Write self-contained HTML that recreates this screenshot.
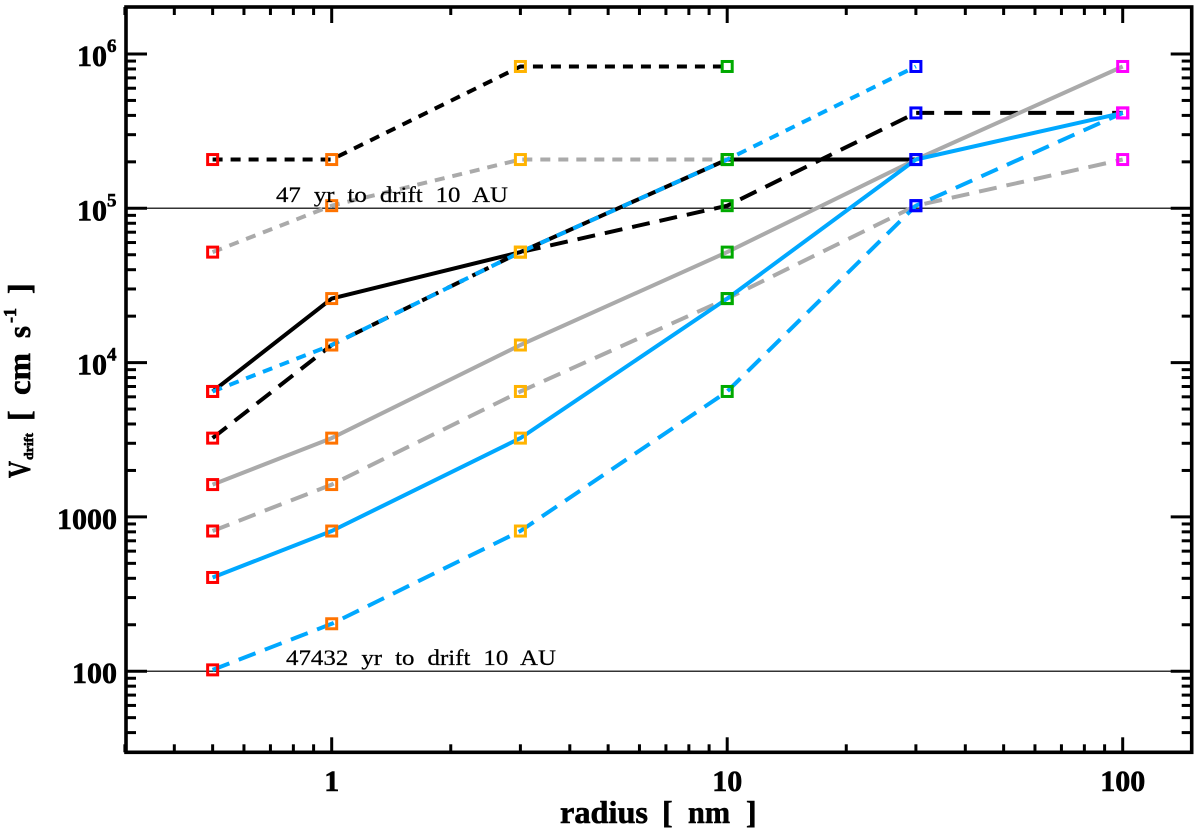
<!DOCTYPE html>
<html lang="en">
<head>
<meta charset="utf-8">
<title>Drift velocity vs radius</title>
<style>
  html, body { margin: 0; padding: 0; background: #fff; }
  svg { display: block; }
  text { font-family: "Liberation Serif", serif; fill: #000; }
  .bold { font-weight: bold; stroke: #000; stroke-width: 0.6px; }
  .note { stroke: #000; stroke-width: 0.25px; }
</style>
</head>
<body>
<svg id="chart" xmlns="http://www.w3.org/2000/svg" width="1200" height="835" viewBox="0 0 1200 835">
  <rect x="0" y="0" width="1200" height="835" fill="#fff"/>
  <g id="refs"></g>
  <g id="ticks"></g>
  <g id="series"></g>
  <g id="markers"></g>
  <g id="labels"></g>
  <rect x="126" y="7" width="1065.7" height="745.3" fill="none" stroke="#000" stroke-width="3.6"/>

  <text class="note" x="276" y="202" font-size="22" word-spacing="6" textLength="232" lengthAdjust="spacingAndGlyphs">47 yr to drift 10 AU</text>
  <text class="note" x="286" y="665" font-size="22" word-spacing="6" textLength="270" lengthAdjust="spacingAndGlyphs">47432 yr to drift 10 AU</text>

  <g font-size="32">
    <text class="bold" x="560" y="823" textLength="88" lengthAdjust="spacingAndGlyphs">radius</text>
    <text class="bold" x="662" y="823">[</text>
    <text class="bold" x="688" y="823" textLength="42" lengthAdjust="spacingAndGlyphs">nm</text>
    <text class="bold" x="746" y="823">]</text>
  </g>

  <g transform="translate(30,478) rotate(-90)" font-size="32">
    <text class="bold" x="0" y="0" textLength="17" lengthAdjust="spacingAndGlyphs">V</text>
    <text class="bold" x="18" y="3" font-size="13" textLength="27" lengthAdjust="spacingAndGlyphs">drift</text>
    <text class="bold" x="57" y="0">[</text>
    <text class="bold" x="83" y="0" textLength="42" lengthAdjust="spacingAndGlyphs">cm</text>
    <text class="bold" x="140" y="0" textLength="12" lengthAdjust="spacingAndGlyphs">s</text>
    <text class="bold" x="155" y="-14" font-size="18" textLength="15" lengthAdjust="spacingAndGlyphs">-1</text>
    <text class="bold" x="184" y="0">]</text>
  </g>
</svg>
<script>
const radii = [0.5, 1, 3, 10, 30, 100];
const markerColors = ['#ff0000', '#ff7300', '#ffb300', '#00aa00', '#0000ff', '#ff00ff'];

const blackShort = [207000, 207000, 830000, 830000, null, null];
const blackSolid = [6500, 26000, 52000, 207000, 207000, null];
const blackLong = [3240, 13000, 52000, 104000, 415000, 415000];
const grayShort = [52000, 104000, 207000, 207000, null, null];
const graySolid = [1620, 3240, 13000, 52000, 207000, 830000];
const grayLong = [810, 1620, 6500, 26000, 104000, 207000];
const blueShort = [6500, 13000, 52000, 207000, 830000, null];
const blueSolid = [405, 810, 3240, 26000, 207000, 415000];
const blueLong = [102, 203, 810, 6500, 104000, 415000];

const referenceValues = [100000, 100];
const xTickValues = [1, 10, 100];
const xTickLabels = ['1', '10', '100'];
const yTickValues = [100, 1000, 10000, 100000, 1000000];
const yTickBases = ['100', '1000', '10', '10', '10'];
const yTickExponents = ['', '', '4', '5', '6'];

const NS = 'http://www.w3.org/2000/svg';
const LEFT = 126, RIGHT = 1191.7, TOP = 7, BOTTOM = 752.3;
const xMin = 0.3, xMax = 150, yMin = 30, yMax = 2000000;
const X_ONE = 331.7, X_DECADE = 395.5, Y_E5 = 208.3, Y_DECADE = 154.3;

function xScale(v) { return X_ONE + Math.log10(v) * X_DECADE; }
function yScale(v) { return Y_E5 - (Math.log10(v) - 5) * Y_DECADE; }

function make(tag, attrs, parent) {
  const el = document.createElementNS(NS, tag);
  for (const k in attrs) el.setAttribute(k, attrs[k]);
  parent.appendChild(el);
  return el;
}

const BLUE = '#00a8ff', GRAY = '#aaaaaa', BLACK = '#000000';
const SHORT = '10 8', LONG = '18 10';
const seriesList = [
  { key: 'black-solid', values: blackSolid, color: BLACK, dash: '' },
  { key: 'black-short-dash', values: blackShort, color: BLACK, dash: SHORT },
  { key: 'black-long-dash', values: blackLong, color: BLACK, dash: LONG },
  { key: 'gray-solid', values: graySolid, color: GRAY, dash: '' },
  { key: 'gray-short-dash', values: grayShort, color: GRAY, dash: SHORT },
  { key: 'gray-long-dash', values: grayLong, color: GRAY, dash: LONG },
  { key: 'blue-solid', values: blueSolid, color: BLUE, dash: '' },
  { key: 'blue-short-dash', values: blueShort, color: BLUE, dash: SHORT },
  { key: 'blue-long-dash', values: blueLong, color: BLUE, dash: LONG }
];

const refs = document.getElementById('refs');
referenceValues.forEach(function (v) {
  const line = make('line', { x1: LEFT, x2: RIGHT, y1: yScale(v), y2: yScale(v), stroke: '#333', 'stroke-width': 1.5 }, refs);
  
  
});

const ticks = document.getElementById('ticks');
function addTick(x1, y1, x2, y2, w) {
  const t = make('line', { x1: x1, y1: y1, x2: x2, y2: y2, stroke: '#000', 'stroke-width': w }, ticks);
  
  
}
for (let e = -1; e <= 2; e++) {
  for (let m = 1; m <= 9; m++) {
    const v = m * Math.pow(10, e);
    if (v <= xMin || v >= xMax) continue;
    const major = m === 1;
    const x = xScale(v);
    addTick(x, BOTTOM, x, BOTTOM - (major ? 15 : 8), 3);
    addTick(x, TOP, x, TOP + (major ? 16 : 8), 3);
  }
}
for (let e = 1; e <= 6; e++) {
  for (let m = 1; m <= 9; m++) {
    const v = m * Math.pow(10, e);
    if (v <= yMin || v >= yMax) continue;
    const major = m === 1;
    const y = yScale(v);
    addTick(LEFT, y, LEFT + (major ? 21 : 10), y, 3);
    addTick(RIGHT, y, RIGHT - (major ? 21 : 10), y, 3);
  }
}

const seriesGroup = document.getElementById('series');
const markersGroup = document.getElementById('markers');
seriesList.forEach(function (s) {
  const pts = [];
  s.values.forEach(function (v, i) {
    if (v !== null) pts.push(xScale(radii[i]).toFixed(1) + ',' + yScale(v).toFixed(1));
  });
  const line = make('polyline', { points: pts.join(' '), fill: 'none', stroke: s.color, 'stroke-width': 4, 'stroke-linejoin': 'round' }, seriesGroup);
  if (s.dash) line.setAttribute('stroke-dasharray', s.dash);
  
  
});
seriesList.forEach(function (s) {
  s.values.forEach(function (v, i) {
    if (v === null) return;
    const r = make('rect', { x: xScale(radii[i]) - 5, y: yScale(v) - 5, width: 10, height: 10, fill: 'none', stroke: markerColors[i], 'stroke-width': 3 }, markersGroup);
    
    
  });
});

const labels = document.getElementById('labels');
xTickValues.forEach(function (v, i) {
  const t = make('text', { x: xScale(v), y: 791, 'text-anchor': 'middle', 'font-size': 30, class: 'bold' }, labels);
  t.textContent = xTickLabels[i];
  
  
});
yTickValues.forEach(function (v, i) {
  const y = yScale(v);
  const hasExp = yTickExponents[i] !== '';
  const t = make('text', { x: hasExp ? 107 : 117, y: y + 12, 'text-anchor': 'end', 'font-size': 30, class: 'bold' }, labels);
  t.textContent = yTickBases[i];
  
  
  if (hasExp) {
    const s = make('text', { x: 107, y: y - 2, 'font-size': 19, class: 'bold' }, labels);
    s.textContent = yTickExponents[i];
    
    
  }
});
</script>
</body>
</html>
